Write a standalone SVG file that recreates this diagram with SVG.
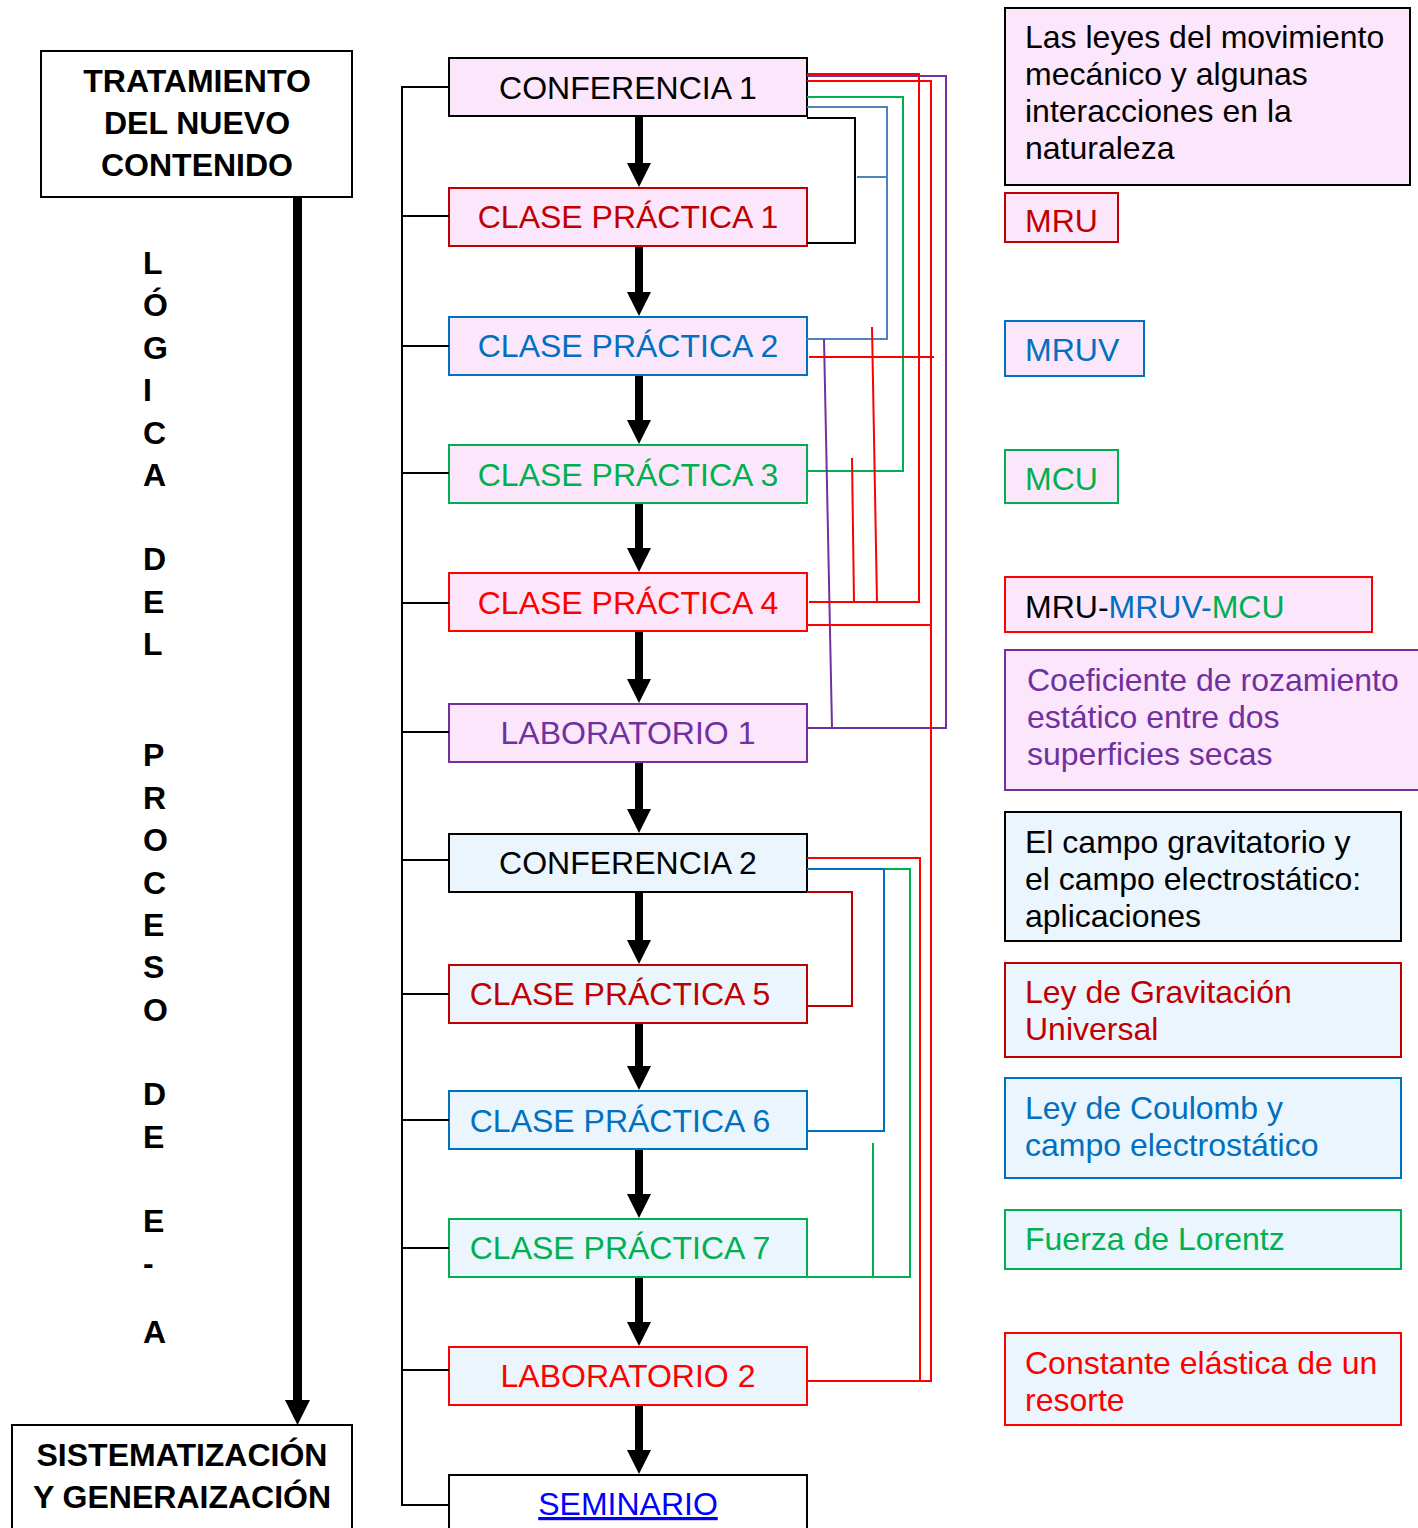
<svg xmlns="http://www.w3.org/2000/svg" width="1418" height="1528" viewBox="0 0 1418 1528">
<style>
text{font-family:"Liberation Sans",Arial,sans-serif;font-size:32px}
.b{font-weight:bold}
.m{text-anchor:middle}
.pk{fill:#fbe6fb}
.lb{fill:#eaf5fd}
.wh{fill:#ffffff}
.box{stroke-width:2}
.k{stroke:#000}
.dr{stroke:#c00000}
.bl{stroke:#0070c0}
.gr{stroke:#00b050}
.rd{stroke:#ff0000}
.pu{stroke:#7030a0}
.tk{fill:#000}
.tdr{fill:#c00000}
.tbl{fill:#0070c0}
.tgr{fill:#00b050}
.trd{fill:#ff0000}
.tpu{fill:#7030a0}
.c{fill:none;stroke-width:2}
</style>
<defs>
<g id="ah"><polygon points="-12,0 12,0 0,24" fill="#000"/></g>
</defs>

<g id="tratamiento">
<rect x="41" y="51" width="311" height="146" class="wh box k"/>
<text x="197" y="91.5" class="b m tk">TRATAMIENTO</text>
<text x="197" y="133.5" class="b m tk">DEL NUEVO</text>
<text x="197" y="175.5" class="b m tk">CONTENIDO</text>
</g>

<g id="sistematizacion">
<rect x="12" y="1425" width="340" height="110" class="wh box k"/>
<text x="182" y="1465.5" class="b m tk">SISTEMATIZACIÓN</text>
<text x="182" y="1507.5" class="b m tk">Y GENERAIZACIÓN</text>
</g>

<g id="logica" class="b tk">
<text x="143" y="273.5" class="b">L</text>
<text x="143" y="315.5" class="b">Ó</text>
<text x="143" y="358.5" class="b">G</text>
<text x="143" y="400.5" class="b">I</text>
<text x="143" y="443.5" class="b">C</text>
<text x="143" y="485.5" class="b">A</text>
<text x="143" y="569.5" class="b">D</text>
<text x="143" y="612.5" class="b">E</text>
<text x="143" y="654.5" class="b">L</text>
<text x="143" y="765.5" class="b">P</text>
<text x="143" y="808.5" class="b">R</text>
<text x="143" y="850.5" class="b">O</text>
<text x="143" y="893.5" class="b">C</text>
<text x="143" y="935.5" class="b">E</text>
<text x="143" y="977.5" class="b">S</text>
<text x="143" y="1020.5" class="b">O</text>
<text x="143" y="1104.5" class="b">D</text>
<text x="143" y="1147.5" class="b">E</text>
<text x="143" y="1231.5" class="b">E</text>
<text x="143" y="1273.5" class="b">-</text>
<text x="143" y="1342.5" class="b">A</text>
</g>

<g id="conf1"><rect x="449" y="58" width="358" height="58" class="pk box k"/><text x="628" y="98.5" class="m tk">CONFERENCIA 1</text></g>
<g id="cp1"><rect x="449" y="188" width="358" height="58" class="pk box dr"/><text x="628" y="227.5" class="m tdr">CLASE PRÁCTICA 1</text></g>
<g id="cp2"><rect x="449" y="317" width="358" height="58" class="pk box bl"/><text x="628" y="356.5" class="m tbl">CLASE PRÁCTICA 2</text></g>
<g id="cp3"><rect x="449" y="445" width="358" height="58" class="pk box gr"/><text x="628" y="486" class="m tgr">CLASE PRÁCTICA 3</text></g>
<g id="cp4"><rect x="449" y="573" width="358" height="58" class="pk box rd"/><text x="628" y="613.5" class="m trd">CLASE PRÁCTICA 4</text></g>
<g id="lab1"><rect x="449" y="704" width="358" height="58" class="pk box pu"/><text x="628" y="743.5" class="m tpu">LABORATORIO 1</text></g>
<g id="conf2"><rect x="449" y="834" width="358" height="58" class="lb box k"/><text x="628" y="873.5" class="m tk">CONFERENCIA 2</text></g>
<g id="cp5"><rect x="449" y="965" width="358" height="58" class="lb box dr"/><text x="620" y="1004.5" class="m tdr">CLASE PRÁCTICA 5</text></g>
<g id="cp6"><rect x="449" y="1091" width="358" height="58" class="lb box bl"/><text x="620" y="1131.5" class="m tbl">CLASE PRÁCTICA 6</text></g>
<g id="cp7"><rect x="449" y="1219" width="358" height="58" class="lb box gr"/><text x="620" y="1258.5" class="m tgr">CLASE PRÁCTICA 7</text></g>
<g id="lab2"><rect x="449" y="1347" width="358" height="58" class="lb box rd"/><text x="628" y="1386.5" class="m trd">LABORATORIO 2</text></g>
<g id="seminario"><rect x="449" y="1475" width="358" height="60" class="wh box k"/><text x="628" y="1515" class="m" fill="#0000ff" text-decoration="underline">SEMINARIO</text></g>

<g id="leyes"><rect x="1005" y="8" width="405" height="177" class="pk box k"/>
<text x="1025" y="48" class="tk">Las leyes del movimiento</text>
<text x="1025" y="85" class="tk">mecánico y algunas</text>
<text x="1025" y="122" class="tk">interacciones en la</text>
<text x="1025" y="159" class="tk">naturaleza</text></g>
<g id="mru"><rect x="1005" y="193" width="113" height="49" class="pk box dr"/><text x="1025" y="231.5" class="tdr">MRU</text></g>
<g id="mruv"><rect x="1005" y="321" width="139" height="55" class="pk box bl"/><text x="1025" y="360.5" class="tbl">MRUV</text></g>
<g id="mcu"><rect x="1005" y="450" width="113" height="53" class="pk box gr"/><text x="1025" y="489.5" class="tgr">MCU</text></g>
<g id="mrumruvmcu"><rect x="1005" y="577" width="367" height="55" class="pk box rd"/><text x="1025" y="617.5" class="tk">MRU-<tspan class="tbl">MRUV-</tspan><tspan class="tgr">MCU</tspan></text></g>
<g id="coef"><rect x="1005" y="650" width="420" height="140" class="pk box pu"/>
<text x="1027" y="691" class="tpu">Coeficiente de rozamiento</text>
<text x="1027" y="728" class="tpu">estático entre dos</text>
<text x="1027" y="765" class="tpu">superficies secas</text></g>
<g id="campo"><rect x="1005" y="812" width="396" height="129" class="lb box k"/>
<text x="1025" y="853" class="tk">El campo gravitatorio y</text>
<text x="1025" y="890" class="tk">el campo electrostático:</text>
<text x="1025" y="927" class="tk">aplicaciones</text></g>
<g id="gravitacion"><rect x="1005" y="963" width="396" height="94" class="lb box dr"/>
<text x="1025" y="1003" class="tdr">Ley de Gravitación</text>
<text x="1025" y="1040" class="tdr">Universal</text></g>
<g id="coulomb"><rect x="1005" y="1078" width="396" height="100" class="lb box bl"/>
<text x="1025" y="1119" class="tbl">Ley de Coulomb y</text>
<text x="1025" y="1156" class="tbl">campo electrostático</text></g>
<g id="lorentz"><rect x="1005" y="1210" width="396" height="59" class="lb box gr"/>
<text x="1025" y="1250" class="tgr">Fuerza de Lorentz</text></g>
<g id="constante"><rect x="1005" y="1333" width="396" height="92" class="lb box rd"/>
<text x="1025" y="1374" class="trd">Constante elástica de un</text>
<text x="1025" y="1411" class="trd">resorte</text></g>

<g id="connectors">
<!-- main left arrow -->
<line x1="297.5" y1="197" x2="297.5" y2="1403" stroke="#000" stroke-width="9"/>
<polygon points="285,1400 310,1400 297.5,1425" fill="#000"/>
<!-- left bracket -->
<path class="c k" d="M449,87 H402 V1505 H449 M402,216 H449 M402,346 H449 M402,473 H449 M402,603 H449 M402,732 H449 M402,860 H449 M402,994 H449 M402,1120 H449 M402,1248 H449 M402,1370 H449"/>
<!-- middle arrows -->
<g stroke="#000" stroke-width="8">
<line x1="639" y1="117" x2="639" y2="165"/>
<line x1="639" y1="247" x2="639" y2="294"/>
<line x1="639" y1="376" x2="639" y2="422"/>
<line x1="639" y1="504" x2="639" y2="550"/>
<line x1="639" y1="632" x2="639" y2="681"/>
<line x1="639" y1="763" x2="639" y2="811"/>
<line x1="639" y1="893" x2="639" y2="942"/>
<line x1="639" y1="1024" x2="639" y2="1068"/>
<line x1="639" y1="1150" x2="639" y2="1196"/>
<line x1="639" y1="1278" x2="639" y2="1324"/>
<line x1="639" y1="1406" x2="639" y2="1452"/>
</g>
<use href="#ah" x="639" y="163"/>
<use href="#ah" x="639" y="292"/>
<use href="#ah" x="639" y="420"/>
<use href="#ah" x="639" y="548"/>
<use href="#ah" x="639" y="679"/>
<use href="#ah" x="639" y="809"/>
<use href="#ah" x="639" y="940"/>
<use href="#ah" x="639" y="1066"/>
<use href="#ah" x="639" y="1194"/>
<use href="#ah" x="639" y="1322"/>
<use href="#ah" x="639" y="1450"/>
<!-- CONF1 links -->
<path class="c k" d="M807,118 H855 V243 H807"/>
<path class="c" stroke="#4f81bd" d="M807,107 H887 V339 H807 M857,177 H887"/>
<path class="c gr" d="M807,97 H903 V471 H807"/>
<path class="c pu" d="M807,76 H946 V728 H807 M824,339 L832,728"/>
<path class="c rd" d="M807,74 H919 V602 H809 M852,458 L854,602 M872,327 L877,602 M809,357 H934"/>
<path class="c rd" stroke-width="3" d="M807,81 H931 V1381 H807 M807,625 H931"/>
<!-- CONF2 links -->
<path class="c rd" d="M807,858 H920 V1381"/>
<path class="c gr" d="M807,869 H910 V1277 H807 M873,1143 V1277"/>
<path class="c bl" d="M807,869 H884 V1131 H807"/>
<path class="c dr" d="M807,892 H852 V1006 H807"/>
</g>
</svg>
